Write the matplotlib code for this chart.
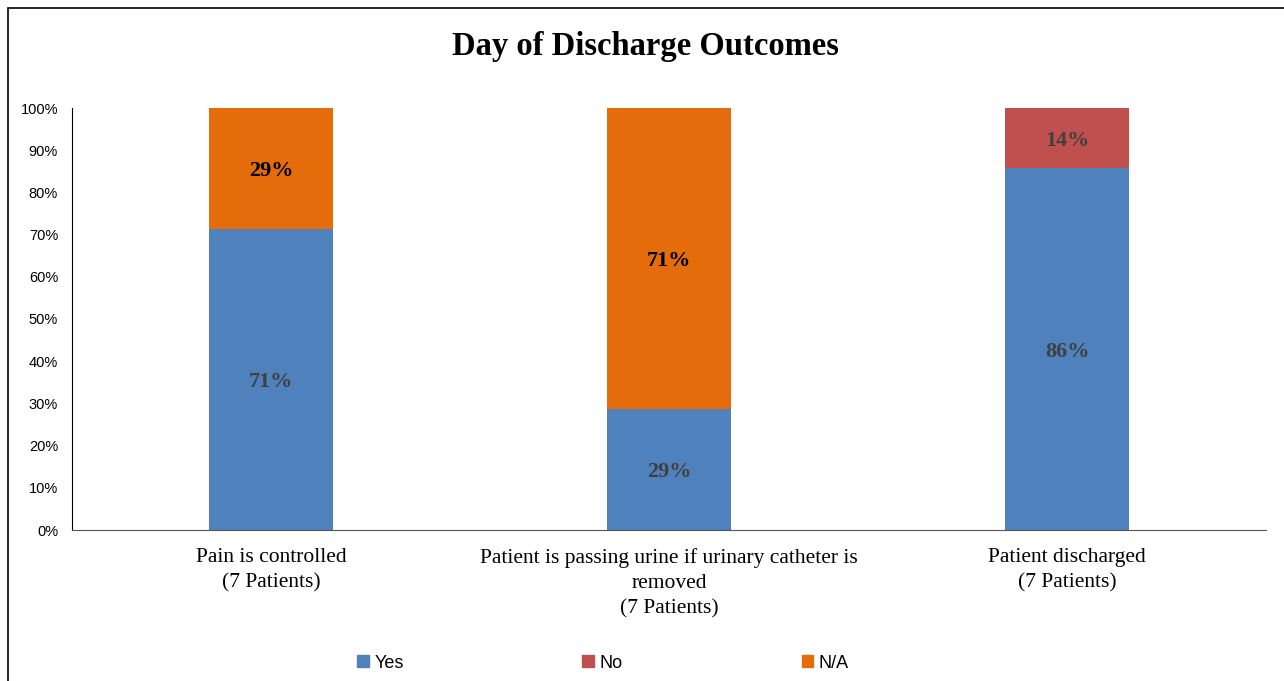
import matplotlib
matplotlib.use("Agg")
from matplotlib import pyplot as plt
from matplotlib.patches import Rectangle, Patch
import numpy as np

categories = ["Pain is controlled\n(7 Patients)",
              "Patient is passing urine if urinary catheter is\nremoved\n(7 Patients)",
              "Patient discharged\n(7 Patients)"]
yes_vals = [71.4, 28.6, 85.7]
no_vals = [0.0, 0.0, 14.3]
na_vals = [28.6, 71.4, 0.0]
series_names = ["Yes", "No", "N/A"]
colors = ["#4F81BD", "#C0504D", "#E46C0A"]

serif = "Liberation Serif"
sans = "Liberation Sans"

fig = plt.figure(figsize=(12.84, 6.81), dpi=100)
# outer border of the chart area
fig.patches.append(Rectangle((8/1284, -0.01), 1.5, 1 - 8/681 + 0.01, transform=fig.transFigure,
                             fill=False, edgecolor="black", linewidth=1.2))

ax = fig.add_axes([72/1284, 1 - 530/681, (1266-72)/1284, (530-108)/681])
x = np.arange(len(categories))
w = 0.314
bottom = np.zeros(len(categories))
for vals, name, c in zip([yes_vals, no_vals, na_vals], series_names, colors):
    vals = np.array(vals)
    ax.bar(x, vals, w, bottom=bottom, color=c, label=name)
    for xi, b, v in zip(x, bottom, vals):
        if v > 0:
            col = "black" if name == "N/A" else "#404040"
            ax.text(xi, b + v/2 - 0.6, "%d%%" % round(v), ha="center", va="center",
                    fontsize=16, fontweight="bold", family=serif, color=col)
    bottom += vals

ax.set_xlim(-0.5, 2.5)
ax.set_ylim(0, 100)
ax.set_yticks(np.arange(0, 101, 10))
ax.set_yticklabels(["%d%%" % t for t in range(0, 101, 10)], family=sans, fontsize=10.5)
ax.set_xticks(x)
ax.set_xticklabels(categories, family=serif, fontsize=15.5, linespacing=1.42)
ax.tick_params(axis="y", length=0, pad=10)
ax.tick_params(axis="x", length=0, pad=13)
for s in ["top", "right"]:
    ax.spines[s].set_visible(False)
ax.spines["left"].set_color("black")
ax.spines["bottom"].set_color("#555555")

fig.text(0.503, 1 - 46/681, "Day of Discharge Outcomes", ha="center", va="center",
         fontsize=23.5, fontweight="bold", family=serif)

handles = [Patch(color=c) for c in colors]
fig.legend(handles, series_names, loc="center", bbox_to_anchor=(603/1284, 1 - 663/681),
           ncol=3, frameon=False, prop={"family": sans, "size": 13},
           handlelength=0.65, handleheight=0.65, handletextpad=0.3, columnspacing=9.9)

fig.savefig("out.png", dpi=100)
